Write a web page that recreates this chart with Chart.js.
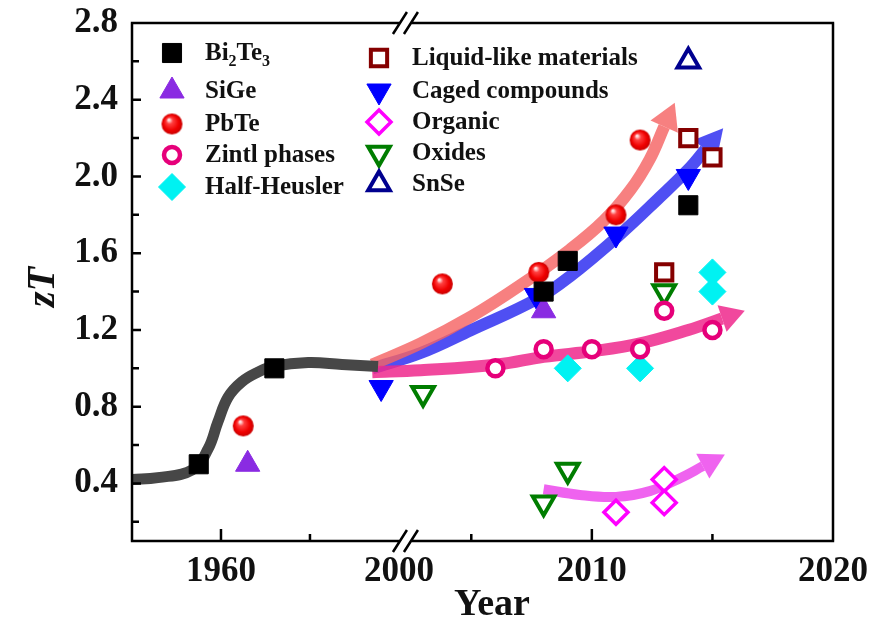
<!DOCTYPE html>
<html>
<head>
<meta charset="utf-8">
<script src="https://cdn.jsdelivr.net/npm/chart.js@4.4.1/dist/chart.umd.min.js"></script>
<style>
  html, body { margin: 0; padding: 0; background: #fff; }
  #wrap { width: 873px; height: 627px; }
</style>
</head>
<body>
<div id="wrap"><canvas id="myChart" width="873" height="627"></canvas></div>
<script>
// broken x axis: 1940-2000 | 2002-2020, right part stretched
const breakLeft = 2000;
const breakRight = 2002;
const rightStretch = 5.42;

function brk(year) {
  if (year <= breakLeft) return year;
  return breakLeft + (year - breakRight) * rightStretch;
}

const xTickYears = [1960, 2000, 2010, 2020];
const xMajorTickYears = [1960, 2010];
const xMinorTickYears = [1980, 2005, 2015];
const yTicks = [0.4, 0.8, 1.2, 1.6, 2.0, 2.4, 2.8];
const yMinorTicks = [0.2, 0.6, 1.0, 1.4, 1.8, 2.2, 2.6];

// data points (year, zT)
const bi2te3Year = [1955, 1972, 2008, 2009, 2014];
const bi2te3ZT = [0.50, 1.00, 1.40, 1.56, 1.85];
const sigeYear = [1966, 2008];
const sigeZT = [0.50, 1.30];
const pbteYear = [1965, 2003.8, 2007.8, 2011, 2012];
const pbteZT = [0.70, 1.44, 1.50, 1.80, 2.19];
const zintlYear = [2006, 2008, 2010, 2012, 2013, 2015];
const zintlZT = [1.00, 1.10, 1.10, 1.10, 1.30, 1.20];
const hhYear = [2009, 2012, 2015, 2015];
const hhZT = [1.00, 1.00, 1.50, 1.40];
const liquidYear = [2013, 2014, 2015];
const liquidZT = [1.50, 2.20, 2.10];
const cagedYear = [1996, 2007.7, 2011, 2014];
const cagedZT = [0.90, 1.38, 1.70, 2.00];
const organicYear = [2011, 2013, 2013];
const organicZT = [0.25, 0.42, 0.30];
const oxidesYear = [2003, 2008, 2009, 2013];
const oxidesZT = [0.87, 0.30, 0.47, 1.40];
const snseYear = [2014];
const snseZT = [2.60];

// trend curves
const trendYear = [1940, 1945.8, 1953.5, 1957.1, 1959.3, 1961.6, 1964.7, 1968.3, 1971.7, 1979.6, 1987.2, 1995.3];
const trendZT = [0.42, 0.43, 0.47, 0.58, 0.72, 0.85, 0.93, 0.98, 1.01, 1.03, 1.02, 1.01];
const pbteArrowYear = [1994, 2002.9, 2005.0, 2007.0, 2009.1, 2010.5, 2011.6, 2012.4, 2013.0];
const pbteArrowZT = [1.02, 1.13, 1.27, 1.43, 1.62, 1.77, 1.93, 2.09, 2.26];
const cagedArrowYear = [1994, 2002.9, 2005.0, 2007.7, 2009.1, 2011.1, 2012.8, 2014.1, 2014.7];
const cagedArrowZT = [1.00, 1.08, 1.20, 1.36, 1.48, 1.69, 1.89, 2.05, 2.14];
const zintlArrowYear = [1994, 2002.9, 2006.1, 2008.0, 2010.1, 2012.0, 2014.0, 2015.4];
const zintlArrowZT = [0.98, 0.99, 1.02, 1.06, 1.09, 1.13, 1.20, 1.26];
const organicArrowYear = [2008.0, 2009.5, 2011.0, 2012.4, 2013.7, 2014.6];
const organicArrowZT = [0.37, 0.34, 0.33, 0.36, 0.43, 0.49];

const legendLeft = ["Bi_2Te_3", "SiGe", "PbTe", "Zintl phases", "Half-Heusler"];
const legendRight = ["Liquid-like materials", "Caged compounds", "Organic", "Oxides", "SnSe"];

const FONT = "'Liberation Serif', 'Times New Roman', serif";

function pts(years, vals) {
  return years.map((y, i) => ({ x: brk(y), y: vals[i] }));
}

// shaded red ball for PbTe
function makeBall(r) {
  const c = document.createElement("canvas");
  c.width = c.height = Math.ceil(r * 2 + 2);
  const g = c.getContext("2d");
  const cx = c.width / 2;
  const grad = g.createRadialGradient(cx - r * 0.3, cx - r * 0.4, r * 0.08, cx, cx, r);
  grad.addColorStop(0, "#ffe6e6");
  grad.addColorStop(0.25, "#ff4040");
  grad.addColorStop(0.7, "#f00000");
  grad.addColorStop(1, "#c80000");
  g.fillStyle = grad;
  g.beginPath();
  g.arc(cx, cx, r, 0, Math.PI * 2);
  g.fill();
  return c;
}
const ball = makeBall(10.5);

function marker(label, years, vals, style) {
  return Object.assign({
    label: label,
    data: pts(years, vals),
    showLine: false,
    order: 0,
    pointBorderWidth: 1,
  }, style);
}

function curve(years, vals, color, width, arrow) {
  return {
    label: "",
    data: pts(years, vals),
    showLine: true,
    borderColor: color,
    backgroundColor: color,
    borderWidth: width,
    pointRadius: 0,
    tension: 0.4,
    fill: false,
    order: 10,
    arrow: arrow,
  };
}

const sBi = { pointStyle: "rect", pointRadius: 13.5, pointBackgroundColor: "#000", pointBorderColor: "#000" };
const sSiGe = { pointStyle: "triangle", pointRadius: 14, pointBackgroundColor: "#8a2be2", pointBorderColor: "#8a2be2" };
const sPbTe = { pointStyle: ball, pointRadius: 10.5, pointBackgroundColor: "#f00", pointBorderColor: "#f00" };
const sZintl = { pointStyle: "circle", pointRadius: 8, pointBackgroundColor: "#fff", pointBorderColor: "#e6007a", pointBorderWidth: 4.5 };
const sHH = { pointStyle: "rectRot", pointRadius: 13.5, pointBackgroundColor: "#00f2f2", pointBorderColor: "#00f2f2" };
const sLiquid = { pointStyle: "rect", pointRadius: 11.5, pointBackgroundColor: "#fff", pointBorderColor: "#850000", pointBorderWidth: 4 };
const sCaged = { pointStyle: "triangle", pointRotation: 180, pointRadius: 14, pointBackgroundColor: "#0000ff", pointBorderColor: "#0000ff" };
const sOrganic = { pointStyle: "rectRot", pointRadius: 12, pointBackgroundColor: "#fff", pointBorderColor: "#ff00ff", pointBorderWidth: 3.5 };
const sOxides = { pointStyle: "triangle", pointRotation: 180, pointRadius: 12.5, pointBackgroundColor: "#fff", pointBorderColor: "#007d00", pointBorderWidth: 4 };
const sSnSe = { pointStyle: "triangle", pointRadius: 12.5, pointBackgroundColor: "#fff", pointBorderColor: "#00008f", pointBorderWidth: 4 };

const markerSets = [
  marker("Bi2Te3", bi2te3Year, bi2te3ZT, sBi),
  marker("SiGe", sigeYear, sigeZT, sSiGe),
  marker("PbTe", pbteYear, pbteZT, sPbTe),
  marker("Zintl phases", zintlYear, zintlZT, sZintl),
  marker("Half-Heusler", hhYear, hhZT, sHH),
  marker("Liquid-like materials", liquidYear, liquidZT, sLiquid),
  marker("Caged compounds", cagedYear, cagedZT, sCaged),
  marker("Organic", organicYear, organicZT, sOrganic),
  marker("Oxides", oxidesYear, oxidesZT, sOxides),
  marker("SnSe", snseYear, snseZT, sSnSe),
];

const curveSets = [
  curve(trendYear, trendZT, "#474747", 11, null),
  curve(zintlArrowYear, zintlArrowZT, "rgba(238,40,140,0.85)", 12, { len: 24, half: 14 }),
  curve(pbteArrowYear, pbteArrowZT, "rgba(245,100,100,0.82)", 12, { len: 26, half: 15 }),
  curve(cagedArrowYear, cagedArrowZT, "rgba(40,40,240,0.82)", 12, { len: 28, half: 15 }),
  curve(organicArrowYear, organicArrowZT, "rgba(235,60,235,0.8)", 10, { len: 25, half: 14 }),
];

function drawRich(ctx, text, x, y) {
  const parts = text.split(/_(\d)/);
  let cx = x;
  parts.forEach((p, i) => {
    if (!p) return;
    if (i % 2 === 1) {
      ctx.font = "bold 16px " + FONT;
      ctx.fillText(p, cx, y + 8);
    } else {
      ctx.font = "bold 25px " + FONT;
      ctx.fillText(p, cx, y);
    }
    cx += ctx.measureText(p).width;
  });
}

function drawMarker(ctx, ds, x, y) {
  ctx.save();
  ctx.fillStyle = ds.pointBackgroundColor;
  ctx.strokeStyle = ds.pointBorderColor;
  ctx.lineWidth = ds.pointBorderWidth;
  Chart.helpers.drawPoint(ctx, {
    pointStyle: ds.pointStyle,
    radius: ds.pointRadius,
    rotation: ds.pointRotation || 0,
    borderWidth: ds.pointBorderWidth,
  }, x, y);
  ctx.restore();
}

const decor = {
  id: "decor",
  afterDatasetDraw(chart, args) {
    const ds = chart.data.datasets[args.index];
    if (!ds.arrow) return;
    const el = args.meta.data;
    const a = el[el.length - 2];
    const b = el[el.length - 1];
    const dx = b.x - a.x;
    const dy = b.y - a.y;
    const len = Math.hypot(dx, dy);
    const ux = dx / len;
    const uy = dy / len;
    const ctx = chart.ctx;
    ctx.save();
    ctx.fillStyle = ds.borderColor;
    ctx.beginPath();
    ctx.moveTo(b.x + ux * ds.arrow.len, b.y + uy * ds.arrow.len);
    ctx.lineTo(b.x - uy * ds.arrow.half, b.y + ux * ds.arrow.half);
    ctx.lineTo(b.x + uy * ds.arrow.half, b.y - ux * ds.arrow.half);
    ctx.closePath();
    ctx.fill();
    ctx.restore();
  },
  afterDraw(chart) {
    const ctx = chart.ctx;
    const area = chart.chartArea;
    const xs = chart.scales.x;
    const ys = chart.scales.y;
    const gapL = xs.getPixelForValue(brk(breakLeft)) + 1;
    const gapR = gapL + 11;

    ctx.save();
    ctx.strokeStyle = "#000";
    ctx.lineWidth = 2.5;
    ctx.lineCap = "butt";
    ctx.beginPath();
    // left and right
    ctx.moveTo(area.left, area.top);
    ctx.lineTo(area.left, area.bottom);
    ctx.moveTo(area.right, area.top);
    ctx.lineTo(area.right, area.bottom);
    // top and bottom with break
    [area.top, area.bottom].forEach((yy) => {
      ctx.moveTo(area.left - 1.2, yy);
      ctx.lineTo(gapL, yy);
      ctx.moveTo(gapR, yy);
      ctx.lineTo(area.right + 1.2, yy);
      [gapL, gapR].forEach((gx) => {
        ctx.moveTo(gx - 7, yy + 11);
        ctx.lineTo(gx + 7, yy - 11);
      });
    });
    // inward ticks
    xMajorTickYears.forEach((yr) => {
      const px = xs.getPixelForValue(brk(yr));
      ctx.moveTo(px, area.bottom);
      ctx.lineTo(px, area.bottom - 12);
    });
    xMinorTickYears.forEach((yr) => {
      const px = xs.getPixelForValue(brk(yr));
      ctx.moveTo(px, area.bottom);
      ctx.lineTo(px, area.bottom - 7);
    });
    yTicks.forEach((v) => {
      const py = ys.getPixelForValue(v);
      ctx.moveTo(area.left, py);
      ctx.lineTo(area.left + 9, py);
    });
    yMinorTicks.forEach((v) => {
      const py = ys.getPixelForValue(v);
      ctx.moveTo(area.left, py);
      ctx.lineTo(area.left + 7, py);
    });
    ctx.stroke();

    // legend
    const ds = chart.data.datasets;
    const leftRows = [53, 91, 124, 155, 187];
    const rightRows = [58, 91, 122, 153, 184];
    ctx.fillStyle = "#111";
    ctx.textAlign = "left";
    ctx.textBaseline = "middle";
    legendLeft.forEach((t, i) => {
      drawMarker(ctx, ds[i], 172, leftRows[i]);
      ctx.fillStyle = "#111";
      drawRich(ctx, t, 205, leftRows[i] + 1);
    });
    legendRight.forEach((t, i) => {
      drawMarker(ctx, ds[i + 5], 379, rightRows[i]);
      ctx.fillStyle = "#111";
      drawRich(ctx, t, 412, rightRows[i] + 1);
    });

    // axis titles
    ctx.fillStyle = "#111";
    ctx.textAlign = "center";
    ctx.textBaseline = "alphabetic";
    ctx.font = "bold 38px " + FONT;
    ctx.fillText("Year", 492, 615);
    ctx.save();
    ctx.translate(54, 287);
    ctx.rotate(-Math.PI / 2);
    ctx.font = "italic bold 40px " + FONT;
    ctx.fillText("zT", 0, 0);
    ctx.restore();
    ctx.restore();
  },
};

new Chart(document.getElementById("myChart"), {
  type: "scatter",
  data: { datasets: markerSets.concat(curveSets) },
  options: {
    responsive: false,
    animation: false,
    devicePixelRatio: 1,
    events: [],
    layout: { padding: { top: 23, right: 40, left: 0, bottom: 0 } },
    plugins: { legend: { display: false }, tooltip: { enabled: false } },
    scales: {
      x: {
        type: "linear",
        min: brk(1940),
        max: brk(2020),
        grid: { display: false, drawTicks: false },
        border: { display: false },
        afterBuildTicks: (s) => { s.ticks = xTickYears.map((v) => ({ value: brk(v) })); },
        afterFit: (s) => { s.height = 86; s.paddingLeft = 0; s.paddingRight = 0; },
        ticks: {
          padding: 10,
          color: "#111",
          font: { family: FONT, size: 35, weight: "bold" },
          callback: (v, i) => String(xTickYears[i]),
        },
      },
      y: {
        type: "linear",
        min: 0.1,
        max: 2.8,
        grid: { display: false, drawTicks: false },
        border: { display: false },
        afterBuildTicks: (s) => { s.ticks = yTicks.map((v) => ({ value: v })); },
        afterFit: (s) => { s.width = 132; s.paddingTop = 0; s.paddingBottom = 0; },
        ticks: {
          padding: 14,
          color: "#111",
          font: { family: FONT, size: 35, weight: "bold" },
          callback: (v) => v.toFixed(1),
        },
      },
    },
  },
  plugins: [decor],
});
</script>
</body>
</html>
